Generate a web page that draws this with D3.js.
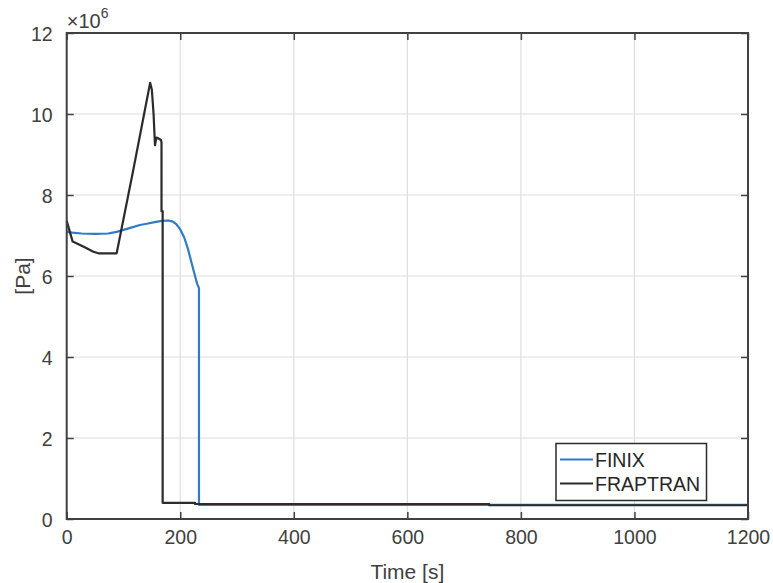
<!DOCTYPE html>
<html>
<head>
<meta charset="utf-8">
<script src="https://cdn.jsdelivr.net/npm/d3@7"></script>
<style>
  body { margin: 0; background: #fff; }
  text { font-family: "Liberation Sans", Arial, sans-serif; }
</style>
</head>
<body>
<div id="chart-area"></div>
<script>
// values, pressure in units of 1e6 Pa
var finixTime = [0, 10, 26, 50, 73, 88, 100, 115, 129, 141, 155, 168, 179, 186, 193, 200, 207, 214, 220, 226, 230, 233, 233, 500, 1200];
var finixPa   = [7.09, 7.07, 7.05, 7.04, 7.05, 7.09, 7.14, 7.2, 7.26, 7.29, 7.33, 7.36, 7.37, 7.35, 7.28, 7.15, 6.95, 6.65, 6.32, 6.0, 5.8, 5.7, 0.35, 0.35, 0.35];

var fraptranTime = [0, 10.5, 30, 47, 56, 88, 117, 147, 150, 153, 155.5, 158, 161, 166, 167, 167, 169, 169, 226, 226, 744, 744, 1200];
var fraptranPa   = [7.36, 6.85, 6.72, 6.6, 6.56, 6.56, 8.6, 10.77, 10.6, 10.0, 9.23, 9.42, 9.4, 9.36, 9.3, 7.6, 7.6, 0.40, 0.40, 0.37, 0.37, 0.34, 0.34];

var xTicks = [0, 200, 400, 600, 800, 1000, 1200];
var yTicks = [0, 2, 4, 6, 8, 10, 12];
var seriesNames = ["FINIX", "FRAPTRAN"];
var seriesColors = ["#2f7bc4", "#2b2b2b"];

var W = 773, H = 583;
var margin = { left: 66.7, top: 33, right: 25, bottom: 64 };
var width = W - margin.left - margin.right;
var height = H - margin.top - margin.bottom;
var axisCol = "#404040";

var svg = d3.select("#chart-area").append("svg")
    .attr("width", W)
    .attr("height", H);

var g = svg.append("g")
    .attr("transform", "translate(" + margin.left + "," + margin.top + ")");

var x = d3.scaleLinear().domain([0, 1200]).range([0, width]);
var y = d3.scaleLinear().domain([0, 12]).range([height, 0]);

// grid
g.append("g").selectAll("line").data(xTicks.slice(1, -1)).enter().append("line")
    .attr("x1", function(d) { return x(d); }).attr("x2", function(d) { return x(d); })
    .attr("y1", 0).attr("y2", height)
    .attr("stroke", "#dedede").attr("stroke-width", 1.2);
g.append("g").selectAll("line").data(yTicks.slice(1, -1)).enter().append("line")
    .attr("y1", function(d) { return y(d); }).attr("y2", function(d) { return y(d); })
    .attr("x1", 0).attr("x2", width)
    .attr("stroke", "#dedede").attr("stroke-width", 1.2);

// lines
var line = d3.line()
    .x(function(d) { return x(d[0]); })
    .y(function(d) { return y(d[1]); });

var series = [
    d3.zip(finixTime, finixPa),
    d3.zip(fraptranTime, fraptranPa)
];

g.selectAll("path.series").data(series).enter().append("path")
    .attr("class", "series")
    .attr("d", line)
    .attr("fill", "none")
    .attr("stroke", function(d, i) { return seriesColors[i]; })
    .attr("stroke-width", 2.2)
    .attr("stroke-linejoin", "round");

// axes, ticks point inward on all four sides
function styleAxis(sel) {
    sel.select(".domain").remove();
    sel.selectAll(".tick line").attr("stroke", axisCol).attr("stroke-width", 1.5);
    sel.selectAll("text").attr("fill", axisCol).attr("font-size", 19.5);
}

var fmt = d3.format("d");

g.append("g")
    .attr("transform", "translate(0," + height + ")")
    .call(d3.axisBottom(x).tickValues(xTicks).tickFormat(fmt).tickSizeInner(-7).tickPadding(14))
    .call(styleAxis)
    .selectAll("text").attr("dy", "0.55em");

g.append("g")
    .call(d3.axisTop(x).tickValues(xTicks).tickSizeInner(-7).tickFormat(""))
    .call(styleAxis);

g.append("g")
    .call(d3.axisLeft(y).tickValues(yTicks).tickFormat(fmt).tickSizeInner(-7).tickPadding(14))
    .call(styleAxis)
    .selectAll("text").attr("dy", "0.36em");

g.append("g")
    .attr("transform", "translate(" + width + ",0)")
    .call(d3.axisRight(y).tickValues(yTicks).tickSizeInner(-7).tickFormat(""))
    .call(styleAxis);

// box
g.append("rect")
    .attr("width", width).attr("height", height)
    .attr("fill", "none")
    .attr("stroke", axisCol).attr("stroke-width", 2);

// exponent
var ex = g.append("text")
    .attr("x", 0).attr("y", -5)
    .attr("fill", axisCol).attr("font-size", 20);
ex.append("tspan").text("×10");
ex.append("tspan").attr("font-size", 14).attr("dy", -10).text("6");

// axis labels
svg.append("text")
    .attr("x", margin.left + width / 2).attr("y", H - 4)
    .attr("text-anchor", "middle")
    .attr("fill", axisCol).attr("font-size", 21)
    .text("Time [s]");

svg.append("text")
    .attr("transform", "translate(30," + (margin.top + height / 2) + ") rotate(-90)")
    .attr("text-anchor", "middle")
    .attr("fill", axisCol).attr("font-size", 21)
    .text("[Pa]");

// legend
var lg = svg.append("g").attr("transform", "translate(556,443.5)");
lg.append("rect")
    .attr("width", 150.5).attr("height", 57)
    .attr("fill", "#fff")
    .attr("stroke", "#2b2b2b").attr("stroke-width", 1.5);

var item = lg.selectAll("g.item").data(seriesNames).enter().append("g")
    .attr("class", "item")
    .attr("transform", function(d, i) { return "translate(0," + (16 + i * 24) + ")"; });
item.append("line")
    .attr("x1", 4).attr("x2", 37).attr("y1", 0).attr("y2", 0)
    .attr("stroke", function(d, i) { return seriesColors[i]; })
    .attr("stroke-width", 2);
item.append("text")
    .attr("x", 39).attr("y", 0).attr("dy", "0.36em")
    .attr("fill", "#262626").attr("font-size", 19.5)
    .text(function(d) { return d; });
</script>
</body>
</html>
